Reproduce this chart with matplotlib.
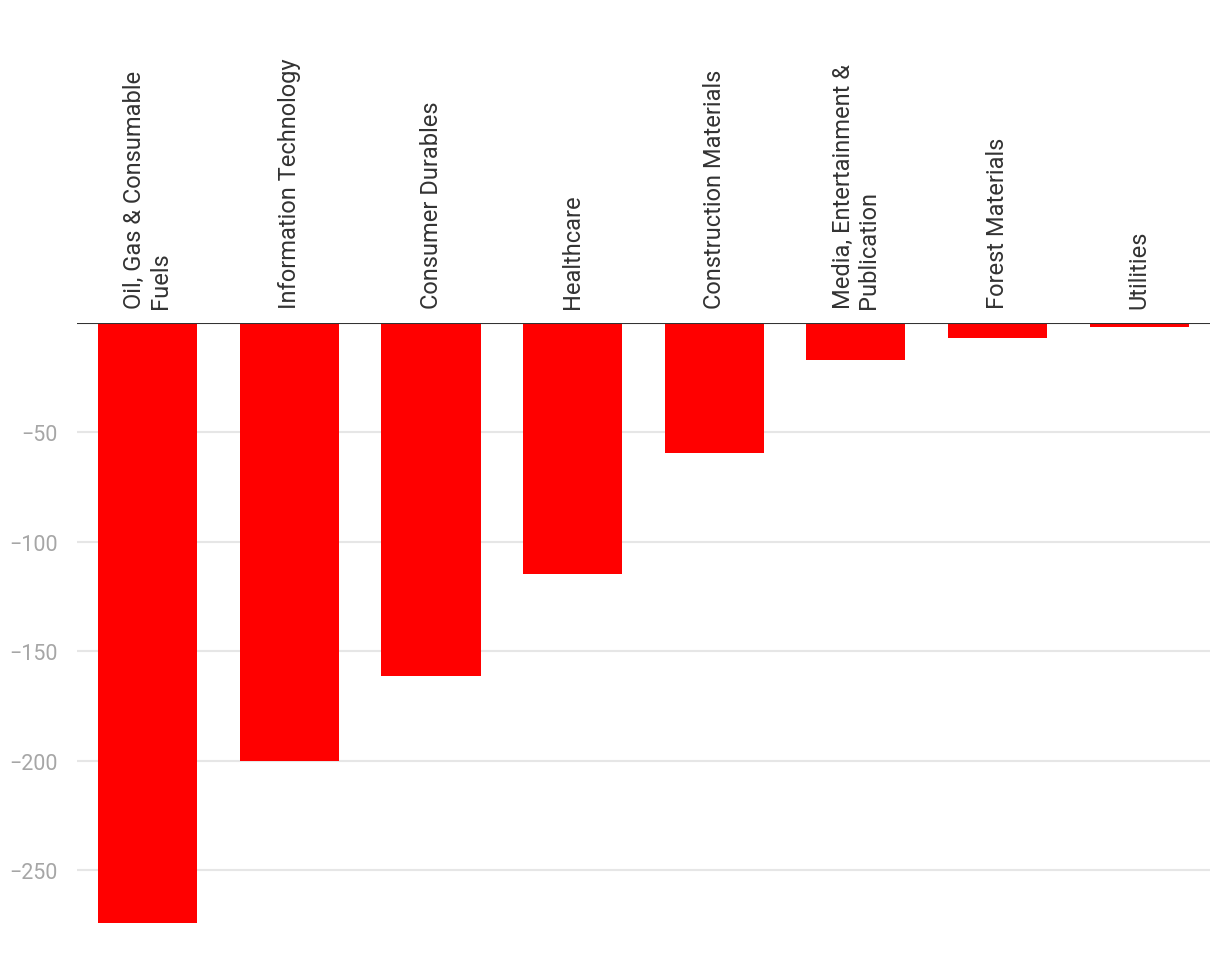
import matplotlib.pyplot as plt

plt.rcParams['font.family'] = ['Roboto', 'DejaVu Sans']

# data
sectors = ["Oil, Gas & Consumable\nFuels", "Information Technology", "Consumer Durables",
           "Healthcare", "Construction Materials", "Media, Entertainment &\nPublication",
           "Forest Materials", "Utilities"]
values = [-274, -200, -161.3, -114.7, -59.5, -16.8, -6.7, -1.7]
yticks = [-250, -200, -150, -100, -50]

fig = plt.figure(figsize=(12.2, 9.78), dpi=100)
ax = fig.add_axes([0.0631, 0.0555, 0.9287, 0.6132])

x = list(range(len(sectors)))
ax.bar(x, values, width=0.7, color='#ff0000', zorder=2)
ax.axhline(0, color='#333333', lw=1.5, zorder=3)

ax.set_xlim(-0.5, len(sectors) - 0.5)
ax.set_ylim(-274, 0)
ax.set_yticks(yticks)
ax.set_yticklabels([f"\u2212{abs(v)}" for v in yticks], fontsize=15.5, color='#a6a6a6')
ax.yaxis.grid(True, color='#e6e6e6', lw=1.5, zorder=0)
ax.set_xticks([])
ax.tick_params(axis='y', length=0, pad=14)
for s in ax.spines.values():
    s.set_visible(False)

for xi, name in zip(x, sectors):
    ax.annotate(name, (xi, 0), xytext=(0, 11), textcoords='offset points',
                rotation=90, ha='center', va='bottom', ma='left',
                fontsize=17, color='#333333', linespacing=1.15)

fig.savefig('out.png', dpi=100)
